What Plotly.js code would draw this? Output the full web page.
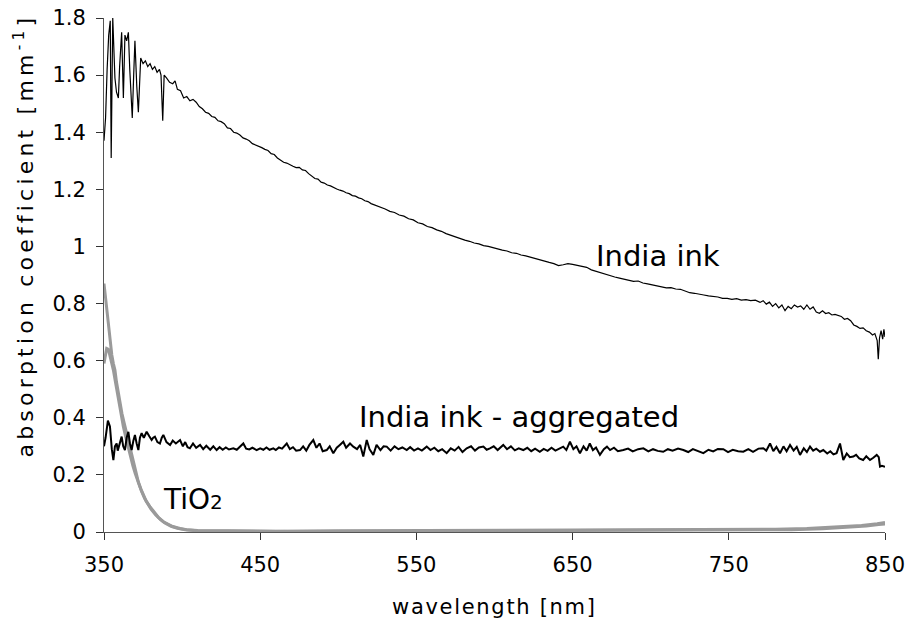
<!DOCTYPE html>
<html>
<head>
<meta charset="utf-8">
<script src="https://cdn.plot.ly/plotly-3.0.1.min.js"></script>
<style>
  html, body { margin: 0; padding: 0; background: #fff; }
  #chart { width: 910px; height: 620px; }
  .annotation-text[data-unformatted^="absorption"] { letter-spacing: 4.2px; }
  .annotation-text[data-unformatted^="wavelength"] { letter-spacing: 1.7px; }
</style>
</head>
<body>
<div id="chart"></div>
<script>
// ---------- data ----------
const inkWl = [350,351,352,353,354,354.6,355.6,357,358,359.2,360,361.3,362.4,363.4,364.5,365.6,366.5,368.1,369,369.8,371,372,373.5,375,376.5,378,379.5,381,382.5,384,385.5,386.5,387.6,388.5,390,392,394,395.5,397,399,401,403,405,407,409,411,413,415,417,419,421,423,425,427,429,431,433,435,437,439,441,443,445,447,449,451,453,455,457,459,461,463,465,467,469,471,473,475,477,479,481,483,485,487,489,491,493,495,497,499,501,503,505,507,509,511,513,515,517,519,521,524,527,530,533,536,539,542,545,548,551,554,557,560,563,566,569,572,575,578,581,584,587,590,593,596,599,602,605,608,611,614,617,620,623,626,629,632,635,638,641,644,647,650,653,656,659,662,665,668,671,674,677,680,683,686,689,692,695,698,701,704,707,710,713,716,719,722,725,728,731,734,737,740,743,746,749,752,755,758,761,764,767,770,772,774,776,778,780,782,784,786,788,790,792,794,796,798,800,802,804,806,808,810,812,814,816,818,820,822,824,826,828,830,832,834,836,838,840,842,843.5,845,845.7,846.5,847.5,848.5,849.3,850];
const inkVal = [1.37,1.45,1.62,1.74,1.79,1.31,1.80,1.59,1.54,1.52,1.63,1.75,1.52,1.74,1.72,1.75,1.62,1.45,1.60,1.72,1.56,1.47,1.66,1.64,1.65,1.63,1.64,1.62,1.63,1.61,1.62,1.60,1.44,1.60,1.59,1.575,1.57,1.58,1.55,1.545,1.52,1.525,1.51,1.515,1.505,1.49,1.482,1.47,1.466,1.455,1.452,1.44,1.437,1.43,1.415,1.413,1.40,1.397,1.39,1.38,1.376,1.37,1.36,1.356,1.35,1.346,1.34,1.336,1.325,1.322,1.31,1.304,1.295,1.292,1.285,1.281,1.276,1.277,1.268,1.266,1.255,1.248,1.238,1.236,1.225,1.222,1.215,1.212,1.205,1.201,1.197,1.194,1.188,1.185,1.178,1.176,1.17,1.167,1.16,1.157,1.15,1.144,1.137,1.131,1.123,1.119,1.11,1.106,1.097,1.093,1.083,1.079,1.07,1.066,1.058,1.053,1.045,1.039,1.032,1.027,1.022,1.018,1.012,1.009,1.003,1.000,0.995,0.992,0.987,0.984,0.978,0.976,0.970,0.967,0.962,0.959,0.952,0.949,0.944,0.940,0.933,0.936,0.940,0.937,0.934,0.932,0.927,0.918,0.913,0.907,0.901,0.896,0.893,0.889,0.886,0.883,0.878,0.879,0.872,0.869,0.865,0.862,0.858,0.855,0.856,0.851,0.850,0.845,0.838,0.836,0.834,0.830,0.827,0.825,0.823,0.818,0.818,0.815,0.817,0.812,0.814,0.810,0.812,0.804,0.810,0.798,0.805,0.790,0.800,0.785,0.795,0.775,0.790,0.782,0.795,0.788,0.792,0.780,0.795,0.780,0.788,0.770,0.766,0.775,0.765,0.768,0.760,0.762,0.758,0.755,0.745,0.748,0.740,0.725,0.720,0.713,0.715,0.705,0.700,0.690,0.695,0.670,0.605,0.680,0.705,0.675,0.710,0.683];

const aggWl = [350,351,352.5,353.8,355,356,357,358.1,358.8,360,361.3,362.3,363.4,364.5,365.6,366.6,367.7,368.8,369.8,370.9,372,373,374.1,375.5,377.3,379,380.5,381.5,382.6,384.2,385.8,387,388,390,392.3,394,396,398.7,400.5,402,403.5,405,407,409,411.5,413.5,415.5,418,420,422.1,424,426,428,430,432.8,435,437,439.2,441,443,445,447.7,450,452,454,456,458.4,460,462,464,467,469,471,473,475.5,477.5,479.5,481.5,484,486,488,490,492.6,494.5,496.8,499,501,503.2,505,507.5,509.6,512,514,516,518.2,520,522.4,524.5,527,529,531,533.5,536,538.5,541,543.8,546,548.5,551,553.5,556.6,559,561.5,564,566.5,569.4,572,574.5,577,579.5,582.2,585,587.5,590,592.9,595,597.1,599.5,602,605.6,608,610.5,613,615.5,618.4,621,623.5,626,629,631.5,634,636.5,639,641.5,644,646,648.3,650.5,652.5,654.7,657,659,661,663,665,667.5,670,672,674,676.5,679,682.5,685.5,688.5,692,695.3,698.5,701.5,704.5,708,711,714,717.5,720.9,724,727,730.5,733.7,737,740,743,746.5,749.5,752.5,756,759.3,762.5,765.5,769,772.1,774,776.4,778.5,780.5,782.8,785,787,789.2,791.5,793.5,795.6,798,800,802,804,806,808.4,810.5,813,815,817,819,821.2,823.3,825.5,827.5,829.7,831.5,833.5,836,838,840.4,842.5,844.7,846,846.8,848,849.5,850];
const aggVal = [0.30,0.33,0.39,0.37,0.29,0.252,0.30,0.31,0.285,0.31,0.334,0.30,0.287,0.33,0.351,0.31,0.287,0.32,0.34,0.31,0.287,0.33,0.346,0.33,0.351,0.335,0.322,0.33,0.334,0.315,0.31,0.33,0.34,0.315,0.305,0.32,0.31,0.322,0.30,0.315,0.297,0.293,0.31,0.295,0.305,0.29,0.302,0.288,0.30,0.287,0.297,0.288,0.296,0.289,0.293,0.288,0.298,0.31,0.292,0.289,0.295,0.287,0.293,0.288,0.296,0.288,0.293,0.287,0.296,0.292,0.31,0.29,0.297,0.285,0.287,0.30,0.285,0.305,0.322,0.295,0.31,0.283,0.287,0.30,0.276,0.295,0.305,0.316,0.295,0.31,0.299,0.29,0.305,0.264,0.322,0.29,0.27,0.305,0.287,0.30,0.299,0.285,0.30,0.29,0.296,0.287,0.297,0.285,0.293,0.285,0.299,0.287,0.295,0.283,0.29,0.276,0.293,0.285,0.298,0.28,0.293,0.30,0.285,0.296,0.299,0.288,0.293,0.30,0.287,0.305,0.29,0.30,0.286,0.293,0.287,0.295,0.283,0.292,0.281,0.291,0.284,0.295,0.285,0.292,0.299,0.287,0.316,0.29,0.30,0.276,0.30,0.285,0.31,0.287,0.296,0.27,0.29,0.299,0.287,0.295,0.283,0.287,0.292,0.282,0.29,0.293,0.282,0.29,0.284,0.281,0.29,0.285,0.292,0.287,0.28,0.29,0.283,0.276,0.288,0.282,0.291,0.29,0.28,0.288,0.283,0.281,0.29,0.281,0.292,0.293,0.285,0.31,0.283,0.298,0.276,0.30,0.283,0.305,0.285,0.298,0.27,0.293,0.28,0.299,0.285,0.292,0.281,0.287,0.275,0.283,0.272,0.276,0.31,0.252,0.275,0.262,0.264,0.27,0.258,0.252,0.265,0.252,0.26,0.27,0.262,0.229,0.232,0.229,0.228];

const tioAWl = [350,351,352,353,354,355,356,357,358,359,360.2,361.5,363,364.5,366,367.5,368.8,370.5,372,373.5,375,377,379.4,382,385,388,391,394,398.7,403,410,430,460,500,550,600,650,700,750,780,800,820,835,845,850];
const tioAVal = [0.87,0.82,0.76,0.70,0.655,0.62,0.59,0.567,0.525,0.49,0.45,0.415,0.38,0.346,0.31,0.275,0.24,0.205,0.175,0.152,0.13,0.108,0.089,0.07,0.05,0.036,0.026,0.019,0.012,0.008,0.005,0.004,0.003,0.004,0.005,0.005,0.006,0.007,0.008,0.010,0.012,0.017,0.023,0.029,0.033];
const tioBWl = [350,351,351.7,352.8,353.8,355,356,357.5,359.2,360.8,362.4,364,365.5,367,368.5,370,372,374,376,378,380,383,386,389,393,397,402,410,430,470,520,570,620,670,720,760,790,810,825,838,846,850];
const tioBVal = [0.59,0.63,0.643,0.64,0.62,0.59,0.567,0.52,0.462,0.415,0.369,0.33,0.295,0.262,0.232,0.205,0.172,0.143,0.118,0.098,0.081,0.06,0.044,0.032,0.02,0.013,0.008,0.004,0.003,0.002,0.003,0.004,0.004,0.005,0.005,0.006,0.008,0.011,0.015,0.021,0.026,0.028];

const xTicks = [350,450,550,650,750,850];
const yTicks = [0,0.2,0.4,0.6,0.8,1,1.2,1.4,1.6,1.8];

// ---------- chart ----------
const FONT = 'DejaVu Sans, Verdana, sans-serif';
const gray = '#9a9a9a';

const traces = [
  {x: tioBWl, y: tioBVal, mode: 'lines', line: {color: gray, width: 3}, hoverinfo: 'skip'},
  {x: tioAWl, y: tioAVal, mode: 'lines', line: {color: gray, width: 3}, hoverinfo: 'skip'},
  {x: aggWl, y: aggVal, mode: 'lines', line: {color: '#000', width: 2}, hoverinfo: 'skip'},
  {x: inkWl, y: inkVal, mode: 'lines', line: {color: '#000', width: 1.2}, hoverinfo: 'skip'}
];

const layout = {
  width: 910, height: 620,
  margin: {l: 104, r: 25, t: 18, b: 88},
  paper_bgcolor: '#fff', plot_bgcolor: '#fff',
  showlegend: false,
  font: {family: FONT, color: '#000', size: 21},
  xaxis: {
    range: [350, 850], tickvals: xTicks, ticktext: xTicks.map(String),
    ticks: 'outside', ticklen: 7, tickwidth: 1, tickcolor: '#333',
    showline: true, linecolor: '#555', linewidth: 1,
    showgrid: false, zeroline: false,
    tickfont: {family: FONT, size: 21, color: '#000'},
    ticklabelstandoff: 7
  },
  yaxis: {
    range: [0, 1.8], tickvals: yTicks, ticktext: yTicks.map(String),
    ticks: 'outside', ticklen: 7, tickwidth: 1, tickcolor: '#333',
    showline: true, linecolor: '#555', linewidth: 1,
    showgrid: false, zeroline: false,
    tickfont: {family: FONT, size: 21, color: '#000'},
    ticklabelstandoff: 6
  },
  annotations: [
    {text: 'India ink', x: 704.4, y: 0.967, xref: 'x', yref: 'y', showarrow: false,
     font: {family: FONT, size: 29, color: '#000'}, xanchor: 'center', yanchor: 'middle'},
    {text: 'India ink - aggregated', x: 616, y: 0.402, xref: 'x', yref: 'y', showarrow: false,
     font: {family: FONT, size: 29, color: '#000'}, xanchor: 'center', yanchor: 'middle'},
    {text: 'TiO<span style="font-size:20px">2</span>', x: 407.2, y: 0.115, xref: 'x', yref: 'y', showarrow: false,
     font: {family: FONT, size: 28, color: '#000'}, xanchor: 'center', yanchor: 'middle'},
    {text: 'wavelength [nm]', x: 0.5, y: -0.146, xref: 'paper', yref: 'paper', showarrow: false,
     font: {family: FONT, size: 21, color: '#000'}, xanchor: 'center', yanchor: 'middle'},
    {text: 'absorption coefficient [mm<sup>-1</sup>]', x: -0.103, y: 0.576, xref: 'paper', yref: 'paper',
     showarrow: false, textangle: -90,
     font: {family: FONT, size: 22, color: '#000'}, xanchor: 'center', yanchor: 'middle'}
  ]
};

Plotly.newPlot('chart', traces, layout, {staticPlot: true, displayModeBar: false});
</script>
</body>
</html>
